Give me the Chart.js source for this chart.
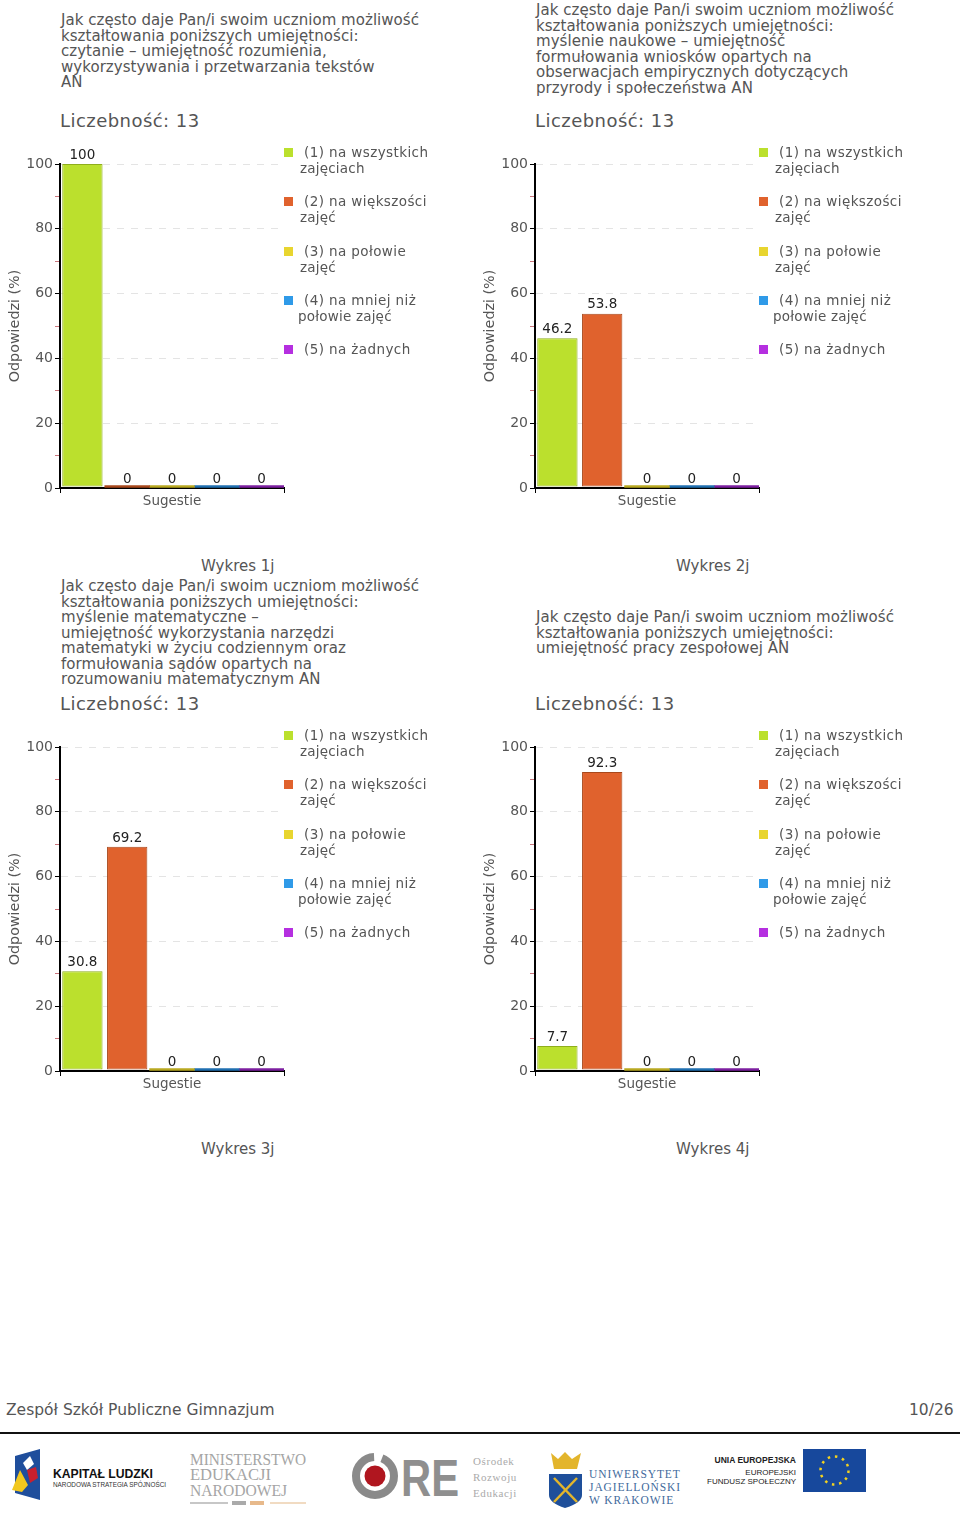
<!DOCTYPE html>
<html lang="pl">
<head>
<meta charset="utf-8">
<title>Wykresy 1j-4j</title>
<script src="https://cdn.jsdelivr.net/npm/chart.js@4/dist/chart.umd.min.js"></script>
<style>
  html, body { margin: 0; padding: 0; background: #fff; }
  #page { position: relative; width: 960px; height: 1521px; overflow: hidden; font-family: "DejaVu Sans", sans-serif; color: #555; }
  #page div.t { position: absolute; white-space: nowrap; }
  canvas { position: absolute; }
  .sw { position: absolute; width: 9px; height: 9px; }
  #logos { position: absolute; left: 0; top: 1440px; }
</style>
</head>
<body>
<div id="page"></div>
<svg id="logos" width="960" height="81" viewBox="0 1440 960 81" xmlns="http://www.w3.org/2000/svg">
  <!-- Kapital Ludzki -->
  <polygon points="15,1456 40,1449 40,1500 15,1493" fill="#1f4e9c"/>
  <polygon points="30,1456 34,1464 27,1470 23,1463" fill="#fff"/>
  <polygon points="27,1470 36,1467 38,1478 30,1483" fill="#c8202f"/>
  <polygon points="12,1490 20,1470 28,1485 22,1492" fill="#f2c81e"/>
  <text x="53" y="1478" font-family="Liberation Sans" font-weight="bold" font-size="12.5" fill="#111" textLength="100" lengthAdjust="spacingAndGlyphs">KAPITAŁ LUDZKI</text>
  <text x="53" y="1487" font-family="Liberation Sans" font-size="6.5" fill="#333" textLength="113" lengthAdjust="spacingAndGlyphs">NARODOWA STRATEGIA SPÓJNOŚCI</text>
  <!-- Ministerstwo -->
  <g font-family="Liberation Serif" font-size="16" fill="#a5a5a5">
    <text x="190" y="1465" textLength="116" lengthAdjust="spacingAndGlyphs">MINISTERSTWO</text>
    <text x="190" y="1480" textLength="81" lengthAdjust="spacingAndGlyphs">EDUKACJI</text>
    <text x="190" y="1496" textLength="97" lengthAdjust="spacingAndGlyphs">NARODOWEJ</text>
  </g>
  <line x1="190" y1="1503" x2="228" y2="1503" stroke="#b5b5b5" stroke-width="1.5"/>
  <line x1="270" y1="1503" x2="306" y2="1503" stroke="#eccfae" stroke-width="1.5"/>
  <rect x="232" y="1501" width="14" height="4" fill="#aaa"/>
  <rect x="250" y="1501" width="14" height="4" fill="#e7b98b"/>
  <!-- ORE -->
  <circle cx="375" cy="1476" r="19" fill="none" stroke="#8a8a8a" stroke-width="8" stroke-dasharray="88 8"/>
  <circle cx="375" cy="1476" r="10.5" fill="#b0161f"/>
  <text x="401" y="1496" font-family="Liberation Sans" font-weight="bold" font-size="52" fill="#8f8f8f" textLength="58" lengthAdjust="spacingAndGlyphs">RE</text>
  <g font-family="Liberation Serif" font-size="11" fill="#aaa" letter-spacing="0.6">
    <text x="473" y="1465">Ośrodek</text>
    <text x="473" y="1481">Rozwoju</text>
    <text x="473" y="1497">Edukacji</text>
  </g>
  <!-- Uniwersytet Jagiellonski -->
  <polygon points="551,1453 558,1459 565,1452 572,1459 581,1453 577,1469 554,1469" fill="#e3b52c"/>
  <path d="M549,1474 H582 V1495 Q582,1503 565,1508 Q549,1503 549,1495 Z" fill="#1f4f9a"/>
  <line x1="554" y1="1478" x2="577" y2="1502" stroke="#e3b52c" stroke-width="2.5"/>
  <line x1="577" y1="1478" x2="554" y2="1502" stroke="#e3b52c" stroke-width="2.5"/>
  <g font-family="Liberation Serif" font-size="11.5" fill="#3f6a9c" letter-spacing="0.9">
    <text x="589" y="1478">UNIWERSYTET</text>
    <text x="589" y="1491">JAGIELLOŃSKI</text>
    <text x="589" y="1504">W KRAKOWIE</text>
  </g>
  <!-- Unia Europejska -->
  <g font-family="Liberation Sans" fill="#222" text-anchor="end">
    <text x="796" y="1463" font-size="8.5" font-weight="bold">UNIA EUROPEJSKA</text>
    <text x="796" y="1475" font-size="8">EUROPEJSKI</text>
    <text x="796" y="1484" font-size="8">FUNDUSZ SPOŁECZNY</text>
  </g>
  <rect x="803" y="1449" width="63" height="43" fill="#17489c"/>
  <circle cx="834.5" cy="1470.5" r="14" fill="none" stroke="#f4d21f" stroke-width="2.5" stroke-dasharray="2.5 4.83"/>
</svg>
<script>
// values
const categories = ["Sugestie"];
const seriesLabels = ["(1) na wszystkich", "(2) na większości", "(3) na połowie", "(4) na mniej niż", "(5) na żadnych"];
const seriesLabels2 = ["zajęciach", "zajęć", "zajęć", "połowie zajęć", ""];
const values1j = [100, 0, 0, 0, 0];
const values2j = [46.2, 53.8, 0, 0, 0];
const values3j = [30.8, 69.2, 0, 0, 0];
const values4j = [7.7, 92.3, 0, 0, 0];
const tickValues = [0, 20, 40, 60, 80, 100];

const title1j = ["Jak często daje Pan/i swoim uczniom możliwość", "kształtowania poniższych umiejętności:", "czytanie – umiejętność rozumienia,", "wykorzystywania i przetwarzania tekstów", "AN"];
const title2j = ["Jak często daje Pan/i swoim uczniom możliwość", "kształtowania poniższych umiejętności:", "myślenie naukowe – umiejętność", "formułowania wniosków opartych na", "obserwacjach empirycznych dotyczących", "przyrody i społeczeństwa AN"];
const title3j = ["Jak często daje Pan/i swoim uczniom możliwość", "kształtowania poniższych umiejętności:", "myślenie matematyczne –", "umiejętność wykorzystania narzędzi", "matematyki w życiu codziennym oraz", "formułowania sądów opartych na", "rozumowaniu matematycznym AN"];
const title4j = ["Jak często daje Pan/i swoim uczniom możliwość", "kształtowania poniższych umiejętności:", "umiejętność pracy zespołowej AN"];

const colors = ["#bbe02d", "#e0622d", "#e8d52f", "#2f9ae8", "#b52fe0"];
const borders = ["#8fae1c", "#a8481c", "#b8a820", "#1f6fb0", "#7d1fa0"];

const page = document.getElementById("page");

function addText(str, x, y, size, opts) {
  const d = document.createElement("div");
  d.className = "t";
  d.textContent = str;
  d.style.left = x + "px";
  d.style.top = y + "px";
  d.style.fontSize = size + "px";
  d.style.lineHeight = "16px";
  Object.assign(d.style, opts || {});
  page.appendChild(d);
  return d;
}

// value labels above the bars
const barLabels = {
  id: "barLabels",
  afterDatasetsDraw(chart) {
    const ctx = chart.ctx;
    ctx.save();
    ctx.font = "13.5px 'DejaVu Sans'";
    ctx.fillStyle = "#222";
    ctx.textAlign = "center";
    ctx.textBaseline = "bottom";
    chart.data.datasets.forEach((ds, i) => {
      const bar = chart.getDatasetMeta(i).data[0];
      ctx.fillText(String(ds.data[0]), bar.x, chart.scales.y.getPixelForValue(ds.data[0]) - 2);
    });
    ctx.restore();
  },
};

function drawPanel(offsetX, offsetY, values, titleLines, titleTop, caption) {
  titleLines.forEach((line, i) => {
    addText(line, offsetX + 61, titleTop + i * 15.5, 15, { letterSpacing: "0.04px" });
  });
  addText("Liczebność: 13", offsetX + 60, offsetY + 113, 18, { letterSpacing: "0.45px" });

  const canvas = document.createElement("canvas");
  canvas.style.left = offsetX + "px";
  canvas.style.top = offsetY + 140 + "px";
  canvas.style.width = "290px";
  canvas.style.height = "381px";
  page.appendChild(canvas);

  new Chart(canvas, {
    type: "bar",
    plugins: [barLabels],
    data: {
      labels: categories,
      datasets: values.map((v, i) => {
        const ds = {
          label: seriesLabels[i],
          data: [v],
          backgroundColor: v === 0 ? borders[i] : colors[i],
          borderColor: borders[i],
          borderWidth: v === 0 ? 0 : 1,
          borderSkipped: false,
          barPercentage: v === 0 ? 1 : 0.9,
          minBarLength: 2.5,
        };
        // the bars stop just above the axis line
        if (v !== 0) ds.base = 0.5;
        return ds;
      }),
    },
    options: {
      responsive: false,
      animation: false,
      devicePixelRatio: 1,
      layout: { padding: { top: 24, right: 6, left: 7, bottom: 11 } },
      plugins: { legend: { display: false }, tooltip: { enabled: false } },
      datasets: { bar: { categoryPercentage: 1 } },
      scales: {
        x: {
          title: { display: true, text: "Sugestie", color: "#555", font: { size: 13.5, family: "DejaVu Sans" }, padding: { top: 0, bottom: 0 } },
          ticks: { callback: () => "", padding: 0, font: { size: 1 } },
          grid: { drawOnChartArea: false, drawTicks: true, tickLength: 5, tickColor: "#000" },
          border: { color: "#000", width: 2 },
          afterFit: (s) => { s.height = 22; },
        },
        y: {
          min: 0,
          max: 100,
          title: { display: true, text: "Odpowiedzi (%)", color: "#555", font: { size: 14.3, family: "DejaVu Sans" }, padding: { top: 0, bottom: 0 } },
          ticks: {
            stepSize: 10,
            autoSkip: false,
            color: "#555",
            padding: 2,
            font: { size: 14, family: "DejaVu Sans" },
            callback: (v) => (tickValues.includes(v) ? v : ""),
          },
          grid: {
            tickLength: 5,
            color: (c) => (c.tick.value > 0 && tickValues.includes(c.tick.value) ? "#e4e4e4" : "transparent"),
            tickColor: (c) => (tickValues.includes(c.tick.value) ? "#000" : "#c9757c"),
          },
          border: { color: "#000", width: 2, dash: [7, 7] },
          afterFit: (s) => { s.width = 53; },
        },
      },
    },
  });

  // legend
  seriesLabels.forEach((label, i) => {
    const y = offsetY + 145 + [0, 49, 99, 148, 197][i];
    const sw = document.createElement("div");
    sw.className = "sw";
    sw.style.left = offsetX + 284 + "px";
    sw.style.top = y + 3 + "px";
    sw.style.background = colors[i];
    page.appendChild(sw);
    addText(label, offsetX + 304, y - 1, 13.5, { letterSpacing: "0.4px" });
    if (seriesLabels2[i]) addText(seriesLabels2[i], offsetX + (i === 3 ? 298 : 300), y + 15, 13.5, { letterSpacing: "0.2px" });
  });

  addText(caption, offsetX + 201, offsetY + 558, 15);
}

drawPanel(0, 0, values1j, title1j, 12, "Wykres 1j");
drawPanel(475, 0, values2j, title2j, 2, "Wykres 2j");
drawPanel(0, 583, values3j, title3j, 578, "Wykres 3j");
drawPanel(475, 583, values4j, title4j, 609, "Wykres 4j");

addText("Zespół Szkół Publiczne Gimnazjum", 6, 1402, 15.5);
addText("10/26", 909, 1402, 15.5);
const rule = document.createElement("div");
rule.style.cssText = "position:absolute;left:0;top:1432px;width:960px;height:2px;background:#111";
page.appendChild(rule);
</script>
</body>
</html>
